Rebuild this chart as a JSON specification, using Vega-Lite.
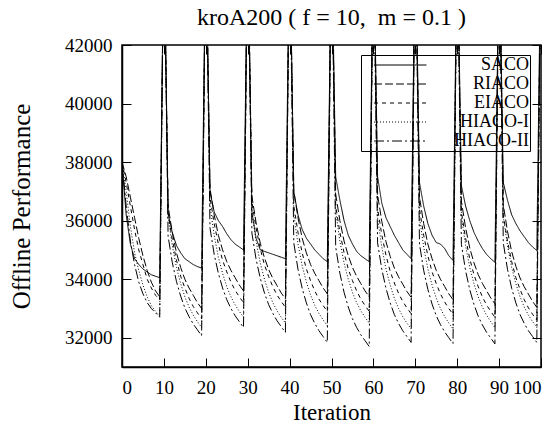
{
"$schema": "https://vega.github.io/schema/vega-lite/v6.json",
"width": 419, "height": 322,
"autosize": {"type": "none"},
"padding": {"left": 122, "top": 45, "right": 17, "bottom": 64},
"background": "white",
"config": {
 "font": "Liberation Serif",
 "view": {"stroke": "black", "strokeWidth": 1.5},
 "axis": {"grid": false, "domainColor": "black", "domainWidth": 1.5, "tickColor": "black", "tickWidth": 1, "labelColor": "black", "labelFont": "Liberation Serif", "labelFontSize": 19, "titleFont": "Liberation Serif", "titleFontWeight": "normal", "titleColor": "black"},
 "title": {"font": "Liberation Serif", "fontSize": 24, "fontWeight": "normal", "color": "black"}
},
"title": {"text": "kroA200 ( f = 10,\u00a0 m = 0.1 )", "offset": 6},
"data": {"values": [
{"it":0,"SACO":38000,"RIACO":38000,"EIACO":38000,"HIACO-I":38000,"HIACO-II":38000},
{"it":1,"SACO":36200,"RIACO":37500,"EIACO":37300,"HIACO-I":37000,"HIACO-II":36500},
{"it":2,"SACO":35200,"RIACO":36800,"EIACO":36500,"HIACO-I":35800,"HIACO-II":35300},
{"it":3,"SACO":34700,"RIACO":36100,"EIACO":35700,"HIACO-I":34900,"HIACO-II":34500},
{"it":4,"SACO":34500,"RIACO":35400,"EIACO":35000,"HIACO-I":34300,"HIACO-II":33900},
{"it":5,"SACO":34350,"RIACO":34800,"EIACO":34500,"HIACO-I":33800,"HIACO-II":33500},
{"it":6,"SACO":34250,"RIACO":34300,"EIACO":34000,"HIACO-I":33400,"HIACO-II":33200},
{"it":7,"SACO":34150,"RIACO":33900,"EIACO":33700,"HIACO-I":33100,"HIACO-II":33000},
{"it":8,"SACO":34100,"RIACO":33600,"EIACO":33450,"HIACO-I":32900,"HIACO-II":32850},
{"it":9,"SACO":34050,"RIACO":33400,"EIACO":33300,"HIACO-I":32750,"HIACO-II":32700},
{"it":10,"SACO":46000,"RIACO":46000,"EIACO":46000,"HIACO-I":46000,"HIACO-II":46000},
{"it":11,"SACO":36250,"RIACO":36500,"EIACO":36250,"HIACO-I":36150,"HIACO-II":35470},
{"it":12,"SACO":35600,"RIACO":35600,"EIACO":35350,"HIACO-I":35150,"HIACO-II":34570},
{"it":13,"SACO":35150,"RIACO":34900,"EIACO":34650,"HIACO-I":34400,"HIACO-II":33920},
{"it":14,"SACO":34900,"RIACO":34400,"EIACO":34100,"HIACO-I":33850,"HIACO-II":33420},
{"it":15,"SACO":34700,"RIACO":34000,"EIACO":33700,"HIACO-I":33400,"HIACO-II":33020},
{"it":16,"SACO":34600,"RIACO":33700,"EIACO":33350,"HIACO-I":33050,"HIACO-II":32720},
{"it":17,"SACO":34500,"RIACO":33450,"EIACO":33070,"HIACO-I":32770,"HIACO-II":32470},
{"it":18,"SACO":34430,"RIACO":33200,"EIACO":32850,"HIACO-I":32550,"HIACO-II":32270},
{"it":19,"SACO":34380,"RIACO":33000,"EIACO":32650,"HIACO-I":32350,"HIACO-II":32070},
{"it":20,"SACO":46000,"RIACO":46000,"EIACO":46000,"HIACO-I":46000,"HIACO-II":46000},
{"it":21,"SACO":37000,"RIACO":37100,"EIACO":36800,"HIACO-I":36500,"HIACO-II":35750},
{"it":22,"SACO":36300,"RIACO":36200,"EIACO":35900,"HIACO-I":35500,"HIACO-II":34850},
{"it":23,"SACO":36000,"RIACO":35500,"EIACO":35200,"HIACO-I":34750,"HIACO-II":34200},
{"it":24,"SACO":35800,"RIACO":35000,"EIACO":34650,"HIACO-I":34200,"HIACO-II":33700},
{"it":25,"SACO":35550,"RIACO":34600,"EIACO":34250,"HIACO-I":33750,"HIACO-II":33300},
{"it":26,"SACO":35350,"RIACO":34300,"EIACO":33900,"HIACO-I":33400,"HIACO-II":33000},
{"it":27,"SACO":35200,"RIACO":34050,"EIACO":33620,"HIACO-I":33120,"HIACO-II":32750},
{"it":28,"SACO":35100,"RIACO":33800,"EIACO":33400,"HIACO-I":32900,"HIACO-II":32550},
{"it":29,"SACO":35000,"RIACO":33600,"EIACO":33200,"HIACO-I":32700,"HIACO-II":32350},
{"it":30,"SACO":46000,"RIACO":46000,"EIACO":46000,"HIACO-I":46000,"HIACO-II":46000},
{"it":31,"SACO":36300,"RIACO":36830,"EIACO":36640,"HIACO-I":36300,"HIACO-II":35580},
{"it":32,"SACO":35400,"RIACO":35930,"EIACO":35740,"HIACO-I":35300,"HIACO-II":34680},
{"it":33,"SACO":35000,"RIACO":35230,"EIACO":35040,"HIACO-I":34550,"HIACO-II":34030},
{"it":34,"SACO":34950,"RIACO":34730,"EIACO":34490,"HIACO-I":34000,"HIACO-II":33530},
{"it":35,"SACO":34900,"RIACO":34330,"EIACO":34090,"HIACO-I":33550,"HIACO-II":33130},
{"it":36,"SACO":34850,"RIACO":34030,"EIACO":33740,"HIACO-I":33200,"HIACO-II":32830},
{"it":37,"SACO":34800,"RIACO":33780,"EIACO":33460,"HIACO-I":32920,"HIACO-II":32580},
{"it":38,"SACO":34750,"RIACO":33530,"EIACO":33240,"HIACO-I":32700,"HIACO-II":32380},
{"it":39,"SACO":34700,"RIACO":33330,"EIACO":33040,"HIACO-I":32500,"HIACO-II":32180},
{"it":40,"SACO":46000,"RIACO":46000,"EIACO":46000,"HIACO-I":46000,"HIACO-II":46000},
{"it":41,"SACO":37000,"RIACO":37000,"EIACO":36500,"HIACO-I":36210,"HIACO-II":35240},
{"it":42,"SACO":36200,"RIACO":36100,"EIACO":35600,"HIACO-I":35210,"HIACO-II":34340},
{"it":43,"SACO":35700,"RIACO":35400,"EIACO":34900,"HIACO-I":34460,"HIACO-II":33690},
{"it":44,"SACO":35400,"RIACO":34900,"EIACO":34350,"HIACO-I":33910,"HIACO-II":33190},
{"it":45,"SACO":35200,"RIACO":34500,"EIACO":33950,"HIACO-I":33460,"HIACO-II":32790},
{"it":46,"SACO":35000,"RIACO":34200,"EIACO":33600,"HIACO-I":33110,"HIACO-II":32490},
{"it":47,"SACO":34850,"RIACO":33950,"EIACO":33320,"HIACO-I":32830,"HIACO-II":32240},
{"it":48,"SACO":34700,"RIACO":33700,"EIACO":33100,"HIACO-I":32610,"HIACO-II":32040},
{"it":49,"SACO":34600,"RIACO":33500,"EIACO":32900,"HIACO-I":32410,"HIACO-II":31840},
{"it":50,"SACO":46000,"RIACO":46000,"EIACO":46000,"HIACO-I":46000,"HIACO-II":46000},
{"it":51,"SACO":37500,"RIACO":36900,"EIACO":36500,"HIACO-I":36300,"HIACO-II":35100},
{"it":52,"SACO":36700,"RIACO":36000,"EIACO":35600,"HIACO-I":35300,"HIACO-II":34200},
{"it":53,"SACO":36000,"RIACO":35300,"EIACO":34900,"HIACO-I":34550,"HIACO-II":33550},
{"it":54,"SACO":35500,"RIACO":34800,"EIACO":34350,"HIACO-I":34000,"HIACO-II":33050},
{"it":55,"SACO":35200,"RIACO":34400,"EIACO":33950,"HIACO-I":33550,"HIACO-II":32650},
{"it":56,"SACO":34950,"RIACO":34100,"EIACO":33600,"HIACO-I":33200,"HIACO-II":32350},
{"it":57,"SACO":34800,"RIACO":33850,"EIACO":33320,"HIACO-I":32920,"HIACO-II":32100},
{"it":58,"SACO":34700,"RIACO":33600,"EIACO":33100,"HIACO-I":32700,"HIACO-II":31900},
{"it":59,"SACO":34600,"RIACO":33400,"EIACO":32900,"HIACO-I":32500,"HIACO-II":31700},
{"it":60,"SACO":46000,"RIACO":46000,"EIACO":46000,"HIACO-I":46000,"HIACO-II":46000},
{"it":61,"SACO":37500,"RIACO":36880,"EIACO":36420,"HIACO-I":36100,"HIACO-II":35240},
{"it":62,"SACO":36600,"RIACO":35980,"EIACO":35520,"HIACO-I":35100,"HIACO-II":34340},
{"it":63,"SACO":36100,"RIACO":35280,"EIACO":34820,"HIACO-I":34350,"HIACO-II":33690},
{"it":64,"SACO":35800,"RIACO":34780,"EIACO":34270,"HIACO-I":33800,"HIACO-II":33190},
{"it":65,"SACO":35500,"RIACO":34380,"EIACO":33870,"HIACO-I":33350,"HIACO-II":32790},
{"it":66,"SACO":35250,"RIACO":34080,"EIACO":33520,"HIACO-I":33000,"HIACO-II":32490},
{"it":67,"SACO":35000,"RIACO":33830,"EIACO":33240,"HIACO-I":32720,"HIACO-II":32240},
{"it":68,"SACO":34850,"RIACO":33580,"EIACO":33020,"HIACO-I":32500,"HIACO-II":32040},
{"it":69,"SACO":34700,"RIACO":33380,"EIACO":32820,"HIACO-I":32300,"HIACO-II":31840},
{"it":70,"SACO":46000,"RIACO":46000,"EIACO":46000,"HIACO-I":46000,"HIACO-II":46000},
{"it":71,"SACO":37300,"RIACO":36800,"EIACO":36400,"HIACO-I":36100,"HIACO-II":35200},
{"it":72,"SACO":36500,"RIACO":35900,"EIACO":35500,"HIACO-I":35100,"HIACO-II":34300},
{"it":73,"SACO":35900,"RIACO":35200,"EIACO":34800,"HIACO-I":34350,"HIACO-II":33650},
{"it":74,"SACO":35500,"RIACO":34700,"EIACO":34250,"HIACO-I":33800,"HIACO-II":33150},
{"it":75,"SACO":35250,"RIACO":34300,"EIACO":33850,"HIACO-I":33350,"HIACO-II":32750},
{"it":76,"SACO":35200,"RIACO":34000,"EIACO":33500,"HIACO-I":33000,"HIACO-II":32450},
{"it":77,"SACO":35050,"RIACO":33750,"EIACO":33220,"HIACO-I":32720,"HIACO-II":32200},
{"it":78,"SACO":34800,"RIACO":33500,"EIACO":33000,"HIACO-I":32500,"HIACO-II":32000},
{"it":79,"SACO":34640,"RIACO":33300,"EIACO":32800,"HIACO-I":32300,"HIACO-II":31800},
{"it":80,"SACO":46000,"RIACO":46000,"EIACO":46000,"HIACO-I":46000,"HIACO-II":46000},
{"it":81,"SACO":37200,"RIACO":36660,"EIACO":36300,"HIACO-I":36150,"HIACO-II":35190},
{"it":82,"SACO":36500,"RIACO":35760,"EIACO":35400,"HIACO-I":35150,"HIACO-II":34290},
{"it":83,"SACO":36000,"RIACO":35060,"EIACO":34700,"HIACO-I":34400,"HIACO-II":33640},
{"it":84,"SACO":35600,"RIACO":34560,"EIACO":34150,"HIACO-I":33850,"HIACO-II":33140},
{"it":85,"SACO":35300,"RIACO":34160,"EIACO":33750,"HIACO-I":33400,"HIACO-II":32740},
{"it":86,"SACO":35050,"RIACO":33860,"EIACO":33400,"HIACO-I":33050,"HIACO-II":32440},
{"it":87,"SACO":34850,"RIACO":33610,"EIACO":33120,"HIACO-I":32770,"HIACO-II":32190},
{"it":88,"SACO":34700,"RIACO":33360,"EIACO":32900,"HIACO-I":32550,"HIACO-II":31990},
{"it":89,"SACO":34580,"RIACO":33160,"EIACO":32700,"HIACO-I":32350,"HIACO-II":31790},
{"it":90,"SACO":46000,"RIACO":46000,"EIACO":46000,"HIACO-I":46000,"HIACO-II":46000},
{"it":91,"SACO":37300,"RIACO":36540,"EIACO":36200,"HIACO-I":36150,"HIACO-II":35240},
{"it":92,"SACO":36700,"RIACO":35640,"EIACO":35300,"HIACO-I":35150,"HIACO-II":34340},
{"it":93,"SACO":36200,"RIACO":34940,"EIACO":34600,"HIACO-I":34400,"HIACO-II":33690},
{"it":94,"SACO":35900,"RIACO":34440,"EIACO":34050,"HIACO-I":33850,"HIACO-II":33190},
{"it":95,"SACO":35650,"RIACO":34040,"EIACO":33650,"HIACO-I":33400,"HIACO-II":32790},
{"it":96,"SACO":35450,"RIACO":33740,"EIACO":33300,"HIACO-I":33050,"HIACO-II":32490},
{"it":97,"SACO":35250,"RIACO":33490,"EIACO":33020,"HIACO-I":32770,"HIACO-II":32240},
{"it":98,"SACO":35100,"RIACO":33240,"EIACO":32800,"HIACO-I":32550,"HIACO-II":32040},
{"it":99,"SACO":34980,"RIACO":33040,"EIACO":32600,"HIACO-I":32350,"HIACO-II":31840},
{"it":100,"SACO":46000,"RIACO":46000,"EIACO":46000,"HIACO-I":46000,"HIACO-II":46000}
]},
"transform": [{"fold": ["SACO", "RIACO", "EIACO", "HIACO-I", "HIACO-II"], "as": ["series", "value"]}],
"layer": [
 {
  "mark": {"type": "line", "clip": true, "color": "black", "strokeWidth": 1},
  "encoding": {
   "x": {"field": "it", "type": "quantitative", "scale": {"domain": [0, 100], "nice": false},
         "axis": {"orient": "bottom", "values": [0,10,20,30,40,50,60,70,80,90,100], "tickSize": -9, "labelPadding": 20, "title": "Iteration", "titleFontSize": 23, "titlePadding": 4}},
   "y": {"field": "value", "type": "quantitative", "scale": {"domain": [31000, 42000], "nice": false, "zero": false},
         "axis": {"orient": "left", "values": [32000,34000,36000,38000,40000,42000], "format": "d", "tickSize": -9, "labelPadding": 19, "title": "Offline Performance", "titleFontSize": 25, "titlePadding": 30}},
   "strokeDash": {"field": "series", "type": "nominal",
      "scale": {"domain": ["SACO", "RIACO", "EIACO", "HIACO-I", "HIACO-II"], "range": [[1, 0], [8, 3], [4, 4], [1, 2], [10, 3, 2, 3]]},
      "legend": {"title": null, "orient": "none", "legendX": 239, "legendY": 10, "strokeColor": "black", "padding": 1,
                 "symbolType": "M0,0H10.5", "symbolSize": 100, "symbolStrokeWidth": 1, "symbolStrokeColor": "black", "symbolFillColor": "transparent", "symbolOffset": 3,
                 "labelFont": "Liberation Serif", "labelFontSize": 18, "labelColor": "black", "labelAlign": "right", "labelOffset": 146, "rowPadding": 1}}
  }
 },
 {
  "mark": {"type": "line", "clip": true, "strokeOpacity": 0},
  "encoding": {
   "x": {"field": "it", "type": "quantitative", "axis": {"orient": "top", "values": [0,10,20,30,40,50,60,70,80,90,100], "tickSize": -9, "labels": false, "domain": false, "title": null}},
   "y": {"field": "value", "type": "quantitative", "axis": {"orient": "right", "values": [32000,34000,36000,38000,40000,42000], "tickSize": -9, "labels": false, "domain": false, "title": null}}
  }
 }
],
"resolve": {"axis": {"x": "independent", "y": "independent"}}
}
